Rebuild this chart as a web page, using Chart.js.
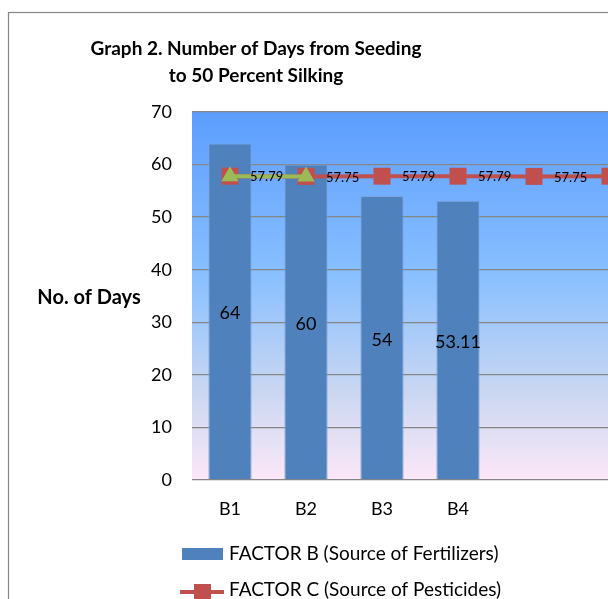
<!DOCTYPE html>
<html>
<head>
<meta charset="utf-8">
<script src="https://cdn.jsdelivr.net/npm/chart.js@4.4.1/dist/chart.umd.min.js"></script>
<style>
  html, body { margin: 0; padding: 0; background: #fff; overflow: hidden; }
  #wrap { position: absolute; left: 0; top: 0; width: 700px; height: 640px; }
</style>
</head>
<body>
<div id="wrap"><canvas id="chart" width="700" height="640"></canvas></div>
<script>
/* =========================
   DATA
========================= */
const categories = ["B1", "B2", "B3", "B4", "", ""];
const factorB = [64, 60, 54, 53.11, null, null];
const factorC = [57.79, 57.75, 57.79, 57.79, 57.75, 57.79];
const factorA = [57.79, 57.75, null, null, null, null];
const yTicks = [0, 10, 20, 30, 40, 50, 60, 70];

const titleLines = ["Graph 2. Number of Days from Seeding", "to 50 Percent Silking"];
const yTitle = "No. of Days";

const FONT = "Lato, 'Open Sans', sans-serif";
const BLUE = "#4F81BD";
const RED = "#C0504D";
const GREEN = "#9BBB59";

/* =========================
   PLUGINS
========================= */
const frame = {
  id: "frame",
  beforeDraw(chart) {
    const { ctx, chartArea: a } = chart;
    ctx.save();
    ctx.fillStyle = "#fff";
    ctx.fillRect(0, 0, chart.width, chart.height);
    ctx.strokeStyle = "#868686";
    ctx.lineWidth = 1.2;
    ctx.strokeRect(8.5, 12.5, 1000, 1000);
    // plot background gradient
    const g = ctx.createLinearGradient(0, a.top, 0, a.bottom);
    g.addColorStop(0, "rgb(92,157,255)");
    g.addColorStop(0.45, "rgb(138,192,255)");
    g.addColorStop(0.75, "rgb(200,214,242)");
    g.addColorStop(1, "rgb(252,232,248)");
    ctx.fillStyle = g;
    ctx.fillRect(a.left, a.top, a.right - a.left, a.bottom - a.top);
    ctx.restore();
  }
};

const labels = {
  id: "labels",
  afterDatasetsDraw(chart) {
    const { ctx } = chart;
    ctx.save();
    ctx.fillStyle = "#000";
    // bar values, centred in bars
    const bars = chart.getDatasetMeta(0);
    ctx.font = "18px " + FONT;
    ctx.textAlign = "center";
    ctx.textBaseline = "middle";
    bars.data.forEach((el, i) => {
      if (factorB[i] == null) return;
      ctx.fillText(String(factorB[i]), el.x, (el.y + el.base) / 2 + 2);
    });
    // line values, right of points
    const line = chart.getDatasetMeta(1);
    ctx.font = "13px " + FONT;
    ctx.textAlign = "left";
    line.data.forEach((el, i) => {
      ctx.fillText(factorC[i].toFixed(2), el.x + 20, el.y + 1);
    });
    ctx.restore();
  },
  afterDraw(chart) {
    const { ctx } = chart;
    ctx.save();
    ctx.fillStyle = "#000";
    // title
    ctx.font = "bold 19px " + FONT;
    ctx.textAlign = "center";
    ctx.textBaseline = "alphabetic";
    ctx.fillText(titleLines[0], 256, 55);
    ctx.fillText(titleLines[1], 256, 82);
    // y axis title
    ctx.font = "bold 20px " + FONT;
    ctx.textBaseline = "middle";
    ctx.fillText(yTitle, 89, 298);
    // legend
    ctx.font = "19px " + FONT;
    ctx.textAlign = "left";
    ctx.fillStyle = BLUE;
    ctx.fillRect(182, 548, 41, 12);
    ctx.fillStyle = "#000";
    ctx.fillText(chart.data.datasets[0].label, 229, 554);
    ctx.strokeStyle = RED;
    ctx.lineWidth = 4;
    ctx.beginPath();
    ctx.moveTo(180, 592);
    ctx.lineTo(224, 592);
    ctx.stroke();
    ctx.fillStyle = RED;
    ctx.fillRect(194, 584, 17, 17);
    ctx.fillStyle = "#000";
    ctx.fillText(chart.data.datasets[1].label, 229, 590);
    ctx.restore();
  }
};

/* =========================
   CHART
========================= */
const ctx = document.getElementById("chart").getContext("2d");

new Chart(ctx, {
  type: "bar",
  data: {
    labels: categories,
    datasets: [
      {
        label: "FACTOR B (Source of Fertilizers)",
        data: factorB,
        backgroundColor: BLUE,
        borderColor: "rgba(125,165,215,0.9)",
        borderWidth: 1,
        categoryPercentage: 1,
        barPercentage: 0.57,
        order: 3
      },
      {
        type: "line",
        label: "FACTOR C (Source of Pesticides)",
        data: factorC,
        borderColor: RED,
        backgroundColor: RED,
        borderWidth: 4,
        pointStyle: "rect",
        pointRadius: 12,
        pointBorderWidth: 0,
        order: 2
      },
      {
        type: "line",
        label: "FACTOR A",
        data: factorA,
        borderColor: GREEN,
        backgroundColor: GREEN,
        borderWidth: 4,
        pointStyle: "triangle",
        pointRadius: 10,
        pointBorderWidth: 0,
        order: 1
      }
    ]
  },
  options: {
    responsive: false,
    animation: false,
    layout: { padding: { left: 0, top: 112, right: 52, bottom: 110 } },
    plugins: {
      legend: { display: false },
      title: { display: false },
      tooltip: { enabled: false }
    },
    scales: {
      x: {
        grid: { display: false },
        border: { display: false },
        ticks: { color: "#000", font: { family: FONT, size: 18 }, padding: 10 },
        afterFit(scale) { scale.height = 50; }
      },
      y: {
        min: 0,
        max: 70,
        afterBuildTicks(scale) { scale.ticks = yTicks.map(v => ({ value: v })); },
        grid: { color: "#868686", lineWidth: 1.3, drawTicks: false },
        border: { display: false },
        ticks: { color: "#000", font: { family: FONT, size: 18 }, padding: 20 },
        afterFit(scale) { scale.width = 192; }
      }
    }
  },
  plugins: [frame, labels]
});
</script>
</body>
</html>
